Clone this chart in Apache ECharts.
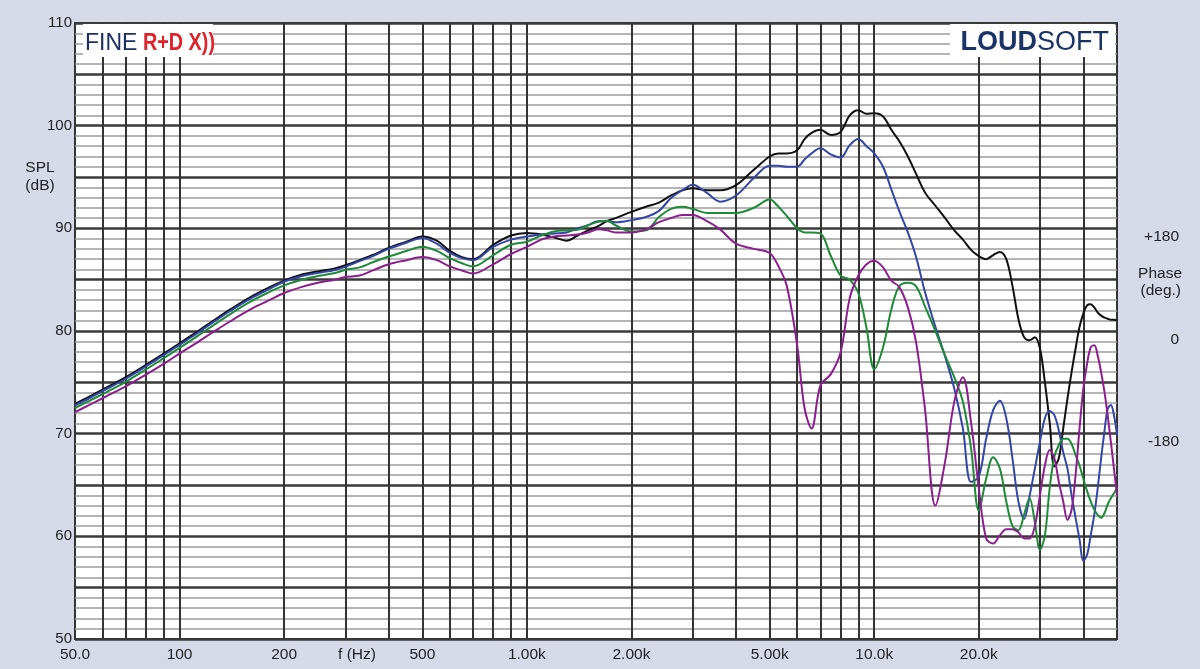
<!DOCTYPE html>
<html><head><meta charset="utf-8">
<script src="https://cdn.jsdelivr.net/npm/echarts@6/dist/echarts.min.js"></script>
<style>html,body{margin:0;padding:0;background:#d6d9e8;}#c{width:1200px;height:669px;}</style>
</head><body><div id="c"></div>
<script>
const freq = [50,55,60,65,70,80,90,100,112,125,140,160,180,200,225,250,280,300,
330,360,400,450,500,550,600,650,700,800,900,1000,1100,1200,1300,1400,1500,1600,1700,1800,2000,2200,2400,2600,2800,3000,3300,3600,
4000,4500,5000,5300,5600,6000,6300,6600,7000,7500,8000,8500,9000,9500,10000,
10600,11200,11800,12500,13200,14000,15000,16000,17000,18000,19000,
20000,21000,22000,23000,24000,25000,26000,27000,28000,29000,30000,31000,32000,33000,34000,35000,36000,37000,38000,39000,40000,41000,42000,43000,44000,45000,46000,47000,48000,49000,50000];

const splBlack = [72.9,73.6,74.3,74.9,75.5,76.7,77.8,78.8,79.9,81.0,82.1,83.3,84.2,84.9,85.5,85.8,86.1,86.4,
86.9,87.4,88.1,88.7,89.2,88.8,87.8,87.2,87.0,88.4,89.3,89.55,89.4,89.1,88.8,89.3,89.8,90.2,90.7,91.0,91.6,92.1,92.5,93.2,93.7,93.9,93.7,93.7,
94.2,95.7,97.0,97.3,97.3,97.6,98.7,99.3,99.6,99.1,99.4,101.0,101.5,101.15,101.2,
100.9,99.6,98.5,97.0,95.3,93.5,92.2,91.0,89.8,88.9,87.9,
87.3,87.0,87.4,87.7,87.0,84.4,81.2,79.4,79.1,79.4,78.3,75.0,71.1,66.8,67.6,70.5,73.4,76.0,78.3,80.4,81.7,82.5,82.6,82.3,81.8,81.5,81.3,81.2,81.1,81.1,81.0];

const splBlue = [72.75,73.45,74.15,74.75,75.35,76.55,77.65,78.65,79.75,80.85,81.95,83.15,84.05,84.8,85.35,85.65,85.95,86.25,
86.8,87.3,88.0,88.6,89.05,88.5,87.6,87.1,86.9,88.2,88.9,89.2,89.4,89.5,89.6,90.0,90.3,90.7,90.7,90.6,90.8,91.1,91.7,92.95,93.7,94.25,93.45,92.6,
93.2,94.9,96.1,96.1,96.0,96.0,96.7,97.3,97.8,97.2,96.9,98.1,98.7,98.0,97.3,
96.0,93.8,91.7,89.6,87.2,83.8,80.4,77.5,74.4,70.5,65.3,
65.8,69.5,72.3,73.2,71.5,67.6,63.4,61.7,63.9,66.6,69.2,71.5,72.2,71.8,70.3,68.2,66.6,64.0,61.8,59.7,57.6,58.2,60.1,62.1,64.7,67.6,70.2,72.4,72.8,71.8,69.9];

const splGreen = [72.5,73.2,73.85,74.45,75.05,76.25,77.35,78.35,79.45,80.55,81.65,82.85,83.75,84.45,85.0,85.35,85.65,85.95,
86.2,86.7,87.25,87.8,88.2,87.8,87.1,86.6,86.3,87.4,88.4,88.7,89.3,89.7,89.8,89.85,90.3,90.65,90.75,90.3,89.7,89.8,91.1,91.9,92.1,91.9,91.5,91.5,
91.5,92.0,92.8,92.1,91.2,90.0,89.6,89.6,89.5,87.3,85.4,85.0,83.7,80.3,76.3,
78.4,82.1,84.35,84.7,84.35,82.4,80.0,77.6,75.5,73.1,68.6,
62.5,65.6,67.7,66.6,63.4,61.0,60.6,62.1,63.7,61.4,58.7,60.1,64.7,67.75,68.9,69.5,69.5,69.0,67.9,66.9,65.6,64.4,63.4,62.6,62.1,61.8,62.25,63.1,63.7,64.2,64.7];

const splPurple = [72.1,72.8,73.45,74.05,74.6,75.75,76.8,77.8,78.85,79.9,80.95,82.1,82.95,83.7,84.3,84.7,85.0,85.25,
85.4,85.9,86.5,86.9,87.2,86.9,86.3,85.9,85.6,86.5,87.5,88.2,88.9,89.2,89.3,89.4,89.6,89.9,89.8,89.6,89.6,89.9,90.6,91.0,91.3,91.3,90.7,89.9,
88.5,88.0,87.6,86.3,84.4,78.6,72.5,70.5,74.7,75.8,77.9,83.2,85.4,86.5,86.85,
86.2,84.9,84.3,82.3,78.9,72.4,63.0,67.3,73.1,75.5,71.1,
64.7,59.8,59.3,60.1,60.7,60.7,60.4,59.8,59.8,61.0,64.0,66.9,68.4,67.6,65.3,63.4,61.6,62.6,66.0,70.5,74.4,76.8,78.4,78.6,77.6,76.0,74.1,71.8,69.2,66.6,64.0];

const xTickValues = [50,100,200,500,1000,2000,5000,10000,20000];
const xTickLabels = ['50.0','100','200','500','1.00k','2.00k','5.00k','10.0k','20.0k'];
const gridFreqs = [60,70,80,90,100,200,300,400,500,600,700,800,900,1000,2000,3000,4000,5000,6000,7000,8000,9000,10000,20000,30000,40000];
const phaseValues = [180,0,-180];
const phaseLabels = ['+180','0','-180'];

const FONT = '"Liberation Sans", Arial, sans-serif';
const chart = echarts.init(document.getElementById('c'));

function mk(name, vals, color) {
  return {
    name, type:'line', data: freq.map((f,i)=>[f, vals[i]]),
    showSymbol:false, smooth:0.35, z:5, silent:true,
    lineStyle:{color, width:2}
  };
}

const option = {
  animation:false,
  backgroundColor:'#d6d9e8',
  grid:{left:75, top:23, width:1042, height:616, show:true, backgroundColor:'#ffffff', borderColor:'#333', borderWidth:2},
  xAxis:{type:'log', logBase:10, min:50, max:50000,
    axisLine:{show:false}, axisTick:{show:false}, axisLabel:{show:false}, splitLine:{show:false}},
  yAxis:[{type:'value', min:50, max:110, interval:5,
    axisLine:{show:false}, axisTick:{show:false},
    axisLabel:{fontSize:15, color:'#222', fontFamily:FONT, margin:3, formatter:v=> (v%10===0? String(v):'')},
    splitLine:{show:true, lineStyle:{color:'#3a3a3a', width:2.5}},
    minorTick:{show:false, splitNumber:5},
    minorSplitLine:{show:true, lineStyle:{color:'#9c9c9c', width:1.6}}},
   {type:'value', min:-540, max:540, position:'right', show:false}],
  series:[
    {type:'line', data:[[50,50]], showSymbol:false, lineStyle:{opacity:0}, z:1, silent:true,
     markLine:{silent:true, symbol:['none','none'], label:{show:false}, animation:false,
       lineStyle:{color:'#333', width:2, type:'solid'},
       data: gridFreqs.map(f=>({xAxis:f}))}},
    mk('black', splBlack, '#111111'),
    mk('blue', splBlue, '#3446a8'),
    mk('green', splGreen, '#1f8a38'),
    mk('purple', splPurple, '#8c1f8e')
  ]
};
chart.setOption(option);

const g = [];
const lbl = {fontSize:15.5, fontFamily:FONT, fill:'#222'};
xTickValues.forEach((v,i)=>{
  const px = chart.convertToPixel({xAxisIndex:0}, v);
  g.push({type:'text', x:px, y:655, z:100, style:Object.assign({text:xTickLabels[i], align:'center', verticalAlign:'middle'}, lbl)});
});
g.push({type:'text', x:357, y:655, z:100, style:Object.assign({text:'f (Hz)', align:'center', verticalAlign:'middle'}, lbl)});
g.push({type:'text', x:40, y:168, z:100, style:Object.assign({text:'SPL', align:'center', verticalAlign:'middle'}, lbl)});
g.push({type:'text', x:40, y:186, z:100, style:Object.assign({text:'(dB)', align:'center', verticalAlign:'middle'}, lbl)});
phaseValues.forEach((v,i)=>{
  const py = chart.convertToPixel({yAxisIndex:1}, v);
  g.push({type:'text', x:1179, y:py+8.5, z:100, style:Object.assign({text:phaseLabels[i], align:'right', verticalAlign:'middle'}, lbl)});
});
g.push({type:'text', x:1182, y:274, z:100, style:Object.assign({text:'Phase', align:'right', verticalAlign:'middle'}, lbl)});
g.push({type:'text', x:1181, y:291, z:100, style:Object.assign({text:'(deg.)', align:'right', verticalAlign:'middle'}, lbl)});
// logos
g.push({type:'rect', z:100, shape:{x:83, y:24, width:130, height:33}, style:{fill:'#ffffff'}});
g.push({type:'text', x:85, y:44, z:101, style:{text:'FINE', fontSize:23, fontFamily:FONT, fill:'#1d2f63', align:'left', verticalAlign:'middle'}});
g.push({type:'text', x:143, y:44, z:101, scaleX:0.86, style:{text:'R+D X))', fontSize:23, fontWeight:'bold', fontFamily:FONT, fill:'#e0232b', align:'left', verticalAlign:'middle'}});
g.push({type:'rect', z:100, shape:{x:950, y:24, width:165, height:33}, style:{fill:'#ffffff'}});
g.push({type:'text', x:1109, y:43, z:101, style:{text:'{a|LOUD}{b|SOFT}', align:'right', verticalAlign:'middle',
  rich:{a:{fontSize:27, fontWeight:'bold', fontFamily:FONT, fill:'#1b3468'}, b:{fontSize:27, fontFamily:FONT, fill:'#1b3468'}}}});
chart.setOption({graphic:g});
</script></body></html>
